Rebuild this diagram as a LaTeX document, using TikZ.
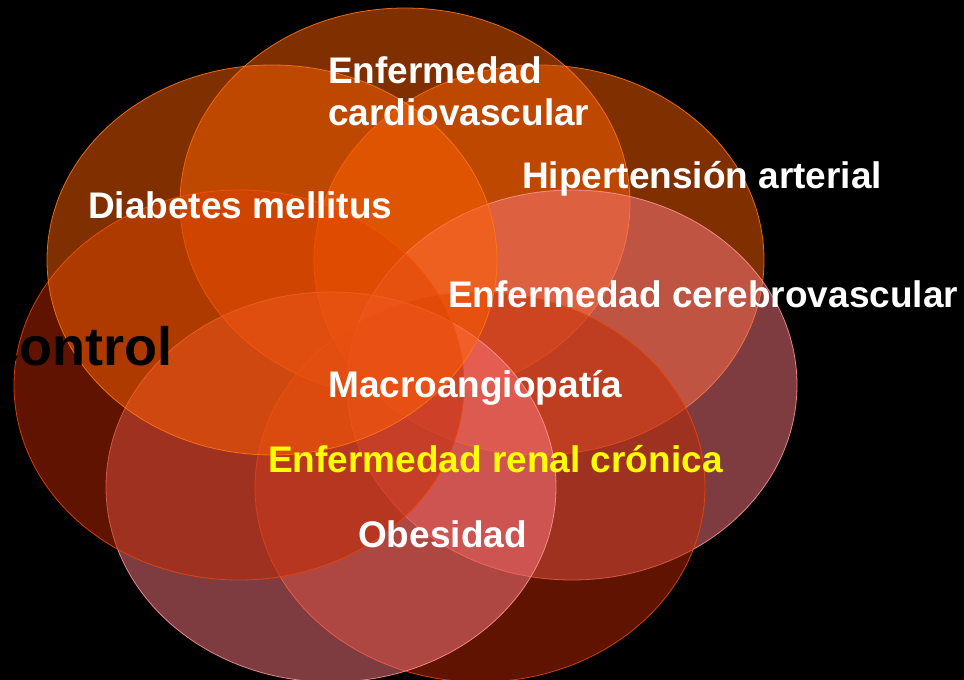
\documentclass[tikz,border=0pt]{standalone}
\usepackage{fontspec}
\setmainfont{Liberation Sans}
\definecolor{orfill}{RGB}{255,96,0}
\definecolor{ordraw}{RGB}{255,120,20}
\definecolor{pkfill}{RGB}{252,120,130}
\definecolor{pkdraw}{RGB}{255,150,150}
\definecolor{rdfill}{RGB}{192,40,0}
\definecolor{rddraw}{RGB}{235,70,10}
\definecolor{ylw}{RGB}{255,255,0}
\begin{document}
\begin{tikzpicture}[x=1pt,y=-1pt,
  orell/.style={fill=orfill, fill opacity=0.5, draw=ordraw, draw opacity=0.85, line width=0.8pt},
  pkell/.style={fill=pkfill, fill opacity=0.5, draw=pkdraw, draw opacity=0.85, line width=0.8pt},
  rdell/.style={fill=rdfill, fill opacity=0.5, draw=rddraw, draw opacity=0.85, line width=0.8pt},
  lbl/.style={anchor=base west, inner sep=0pt, text=white, font=\fontsize{37}{42}\selectfont\bfseries},
  big/.style={anchor=base west, inner sep=0pt, text=black, font=\fontsize{54}{60}\selectfont\bfseries}]
\fill[black] (0,0) rectangle (964,680);
\useasboundingbox (0,0) rectangle (964,680);
% ellipses (back to front)
\path[orell] (539,260) ellipse [x radius=225pt, y radius=195pt];
\path[orell] (405,203) ellipse [x radius=225pt, y radius=195pt];
\path[pkell] (572,385) ellipse [x radius=225pt, y radius=195pt];
\path[rdell] (480,487) ellipse [x radius=225pt, y radius=195pt];
\path[pkell] (331,487) ellipse [x radius=225pt, y radius=195pt];
\path[rdell] (239,385) ellipse [x radius=225pt, y radius=195pt];
\path[orell] (272,260) ellipse [x radius=225pt, y radius=195pt];
% labels
\node[big] (ctl) at (-11,365) {control};
\node[lbl] (cv1) at (328,83) {Enfermedad};
\node[lbl] (cv2) at (328,125) {cardiovascular};
\node[lbl] (hta) at (522,188) {Hipertensión arterial};
\node[lbl] (dm) at (88,218) {Diabetes mellitus};
\node[lbl] (ecv) at (448,307) {Enfermedad cerebrovascular};
\node[lbl] (mac) at (328,397) {Macroangiopatía};
\node[lbl, text=ylw] (erc) at (268,472) {Enfermedad renal crónica};
\node[lbl] (ob) at (358,547) {Obesidad};
\end{tikzpicture}
\end{document}
